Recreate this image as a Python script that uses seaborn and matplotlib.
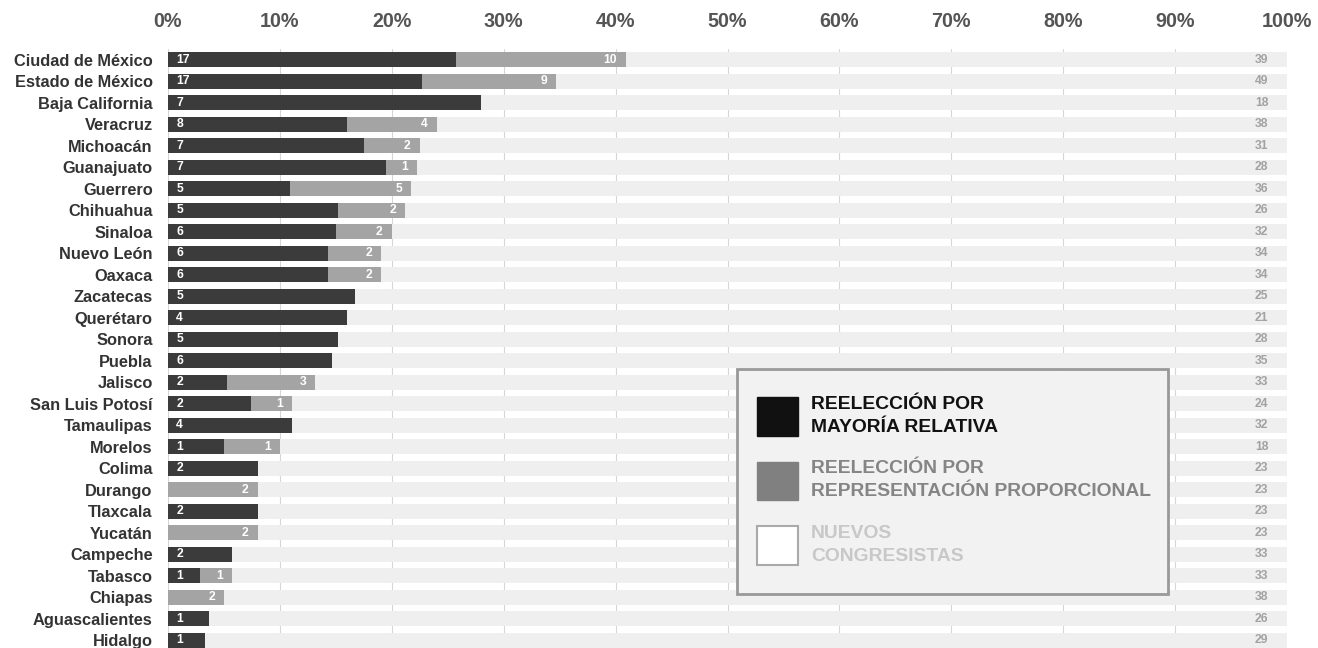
import pandas as pd
import matplotlib
matplotlib.use('Agg')
import matplotlib.pyplot as plt
from matplotlib.patches import Patch, Rectangle
import seaborn as sns

# 1) Data: diputados por estado
estados = ['Ciudad de México', 'Estado de México', 'Baja California', 'Veracruz',
           'Michoacán', 'Guanajuato', 'Guerrero', 'Chihuahua', 'Sinaloa',
           'Nuevo León', 'Oaxaca', 'Zacatecas', 'Querétaro', 'Sonora', 'Puebla',
           'Jalisco', 'San Luis Potosí', 'Tamaulipas', 'Morelos', 'Colima',
           'Durango', 'Tlaxcala', 'Yucatán', 'Campeche', 'Tabasco', 'Chiapas',
           'Aguascalientes', 'Hidalgo']
mayoria = [17, 17, 7, 8, 7, 7, 5, 5, 6, 6, 6, 5, 4, 5, 6, 2, 2, 4, 1, 2, 0, 2, 0, 2, 1, 0, 1, 1]
proporcional = [10, 9, 0, 4, 2, 1, 5, 2, 2, 2, 2, 0, 0, 0, 0, 3, 1, 0, 1, 0, 2, 0, 2, 0, 1, 2, 0, 0]
nuevos = [39, 49, 18, 38, 31, 28, 36, 26, 32, 34, 34, 25, 21, 28, 35, 33, 24, 32, 18, 23,
          23, 23, 23, 33, 33, 38, 26, 29]
ticks = list(range(0, 101, 10))
leyenda = ['REELECCIÓN POR\nMAYORÍA RELATIVA',
           'REELECCIÓN POR\nREPRESENTACIÓN PROPORCIONAL',
           'NUEVOS\nCONGRESISTAS']

# 2) Percentages (100% stacked)
df = pd.DataFrame({'estado': estados, 'mr': mayoria, 'rp': proporcional, 'nuevos': nuevos})
df['total'] = df['mr'] + df['rp'] + df['nuevos']
df['full'] = 100.0
df['pct_rp'] = (df['mr'] + df['rp']) / df['total'] * 100
df['pct_mr'] = df['mr'] / df['total'] * 100

# 3) Plot
sns.set_style('white')
plt.rcParams['font.family'] = ['Liberation Sans', 'DejaVu Sans']

C_MR, C_RP, C_NEW = '#3b3b3b', '#a4a4a4', '#efefef'
W, H = 1318, 648

fig = plt.figure(figsize=(W / 100, H / 100), dpi=100)
ax = fig.add_axes([168 / W, 0, 1119 / W, 1 - 49 / H])

for col, c in [('full', C_NEW), ('pct_rp', C_RP), ('pct_mr', C_MR)]:
    sns.barplot(data=df, x=col, y='estado', color=c, saturation=1,
                width=0.72, linewidth=0, ax=ax)

for i, r in df.iterrows():
    if r['mr'] > 0:
        ax.annotate(str(r['mr']), xy=(0, i), xytext=(6, 0), textcoords='offset points',
                    ha='left', va='center', color='white', fontsize=8.7, fontweight='bold')
    if r['rp'] > 0:
        ax.annotate(str(r['rp']), xy=(r['pct_rp'], i), xytext=(-6.5, 0),
                    textcoords='offset points', ha='right', va='center',
                    color='white', fontsize=8.7, fontweight='bold')
    ax.annotate(str(r['nuevos']), xy=(100, i), xytext=(-13.5, 0),
                textcoords='offset points', ha='right', va='center',
                color='#a2a2a2', fontsize=8.7, fontweight='bold')

ax.set_xlim(0, 100)
ax.set_ylim(27.36, -0.5)
ax.xaxis.set_ticks_position('top')
ax.set_xticks(ticks)
ax.set_xticklabels([f'{t}%' for t in ticks], fontweight='bold')
ax.tick_params(axis='x', length=0, pad=13, labelsize=14.2, labelcolor='#555555')
ax.set_yticks(range(len(estados)))
ax.set_yticklabels(estados, fontweight='bold')
ax.tick_params(axis='y', length=0, pad=11, labelsize=11.8, labelcolor='#333333')
ax.set_xlabel('')
ax.set_ylabel('')
ax.grid(axis='x', color='#d6d6d6', lw=0.8)
ax.set_axisbelow(True)
sns.despine(ax=ax, left=True, bottom=True, top=True, right=True)

# 4) Legend (box drawn separately so padding matches the original)
box = Rectangle((737 / W, 1 - 594 / H), 431 / W, 225 / H, transform=fig.transFigure,
                facecolor='#f2f2f2', edgecolor='#999999', linewidth=2, zorder=4,
                clip_on=False)
ax.add_patch(box)

handles = [Patch(facecolor='#111111', edgecolor='#111111'),
           Patch(facecolor='#808080', edgecolor='#808080'),
           Patch(facecolor='white', edgecolor='#aaaaaa', linewidth=1.5)]
leg = ax.legend(handles, leyenda, loc='upper left',
                bbox_to_anchor=(757 / W, 1 - 396 / H), bbox_transform=fig.transFigure,
                borderaxespad=0, frameon=False, prop={'size': 13.9, 'weight': 'bold'},
                handlelength=2.12, handleheight=2.72, handletextpad=0.67,
                labelspacing=1.26, borderpad=0)
leg.set_zorder(5)
for t, c in zip(leg.get_texts(), ['#111111', '#858585', '#c8c8c8']):
    t.set_color(c)
    t.set_linespacing(1.45)

fig.savefig('out.png', dpi=100)
